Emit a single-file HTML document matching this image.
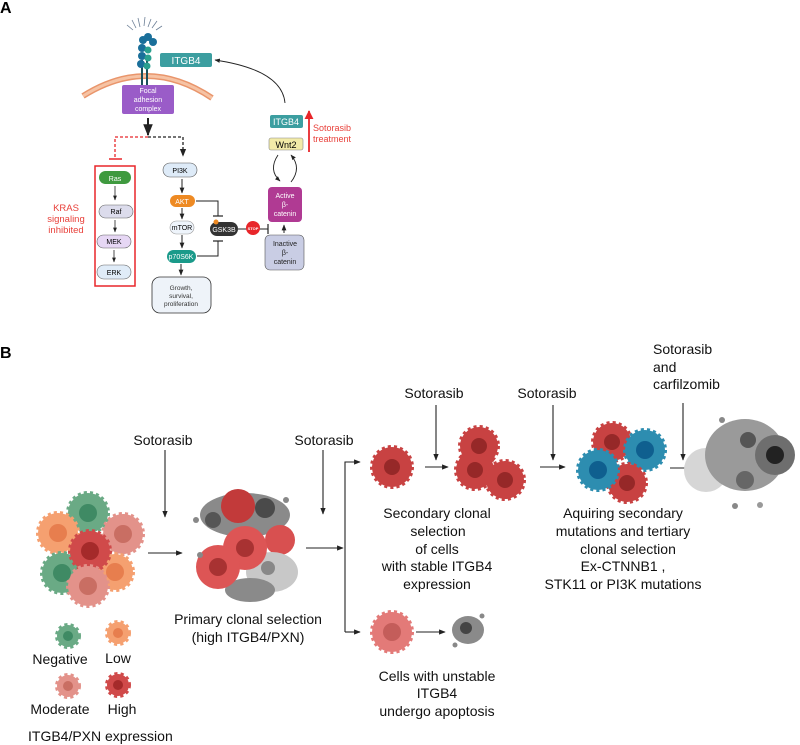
<!DOCTYPE html>
<html><head><meta charset="utf-8"><style>
html,body{margin:0;padding:0;background:#fff}
svg{display:block;font-family:"Liberation Sans",sans-serif}
</style></head><body>
<svg width="800" height="745" viewBox="0 0 800 745" xmlns="http://www.w3.org/2000/svg">
<defs>
<marker id="ah" viewBox="0 0 10 10" refX="9" refY="5" markerWidth="6" markerHeight="6" orient="auto"><path d="M0,1 L10,5 L0,9 z" fill="#222"/></marker>
<marker id="ahr" viewBox="0 0 10 10" refX="9" refY="5" markerWidth="5" markerHeight="5" orient="auto"><path d="M0,0 L10,5 L0,10 z" fill="#e8262a"/></marker>
</defs>
<text x="0" y="13" font-size="16" font-weight="bold">A</text>
<text x="0" y="358" font-size="16" font-weight="bold">B</text>

<!-- membrane -->
<path d="M83,96 Q148,55 212,98" fill="none" stroke="#e9956b" stroke-width="6"/>
<path d="M83,96 Q148,55 212,98" fill="none" stroke="#f6c3a4" stroke-width="3"/>
<!-- receptor -->
<g stroke="#6c7f96" stroke-width="0.8" fill="none">
<path d="M136,28 l-4,-8 M140,27 l-2,-9 M144,26 l1,-9 M148,27 l3,-8 M152,28 l5,-7 M133,30 l-6,-5 M156,30 l6,-4"/>
</g>
<line x1="142" y1="60" x2="142" y2="86" stroke="#1b4f5a" stroke-width="2"/>
<line x1="147" y1="60" x2="147" y2="86" stroke="#1b4f5a" stroke-width="2"/>
<g fill="#1a6f9a">
<circle cx="142" cy="48" r="4"/><circle cx="142" cy="56" r="4"/><circle cx="141" cy="64" r="4"/><circle cx="143" cy="40" r="4"/><circle cx="148" cy="37" r="4"/><circle cx="153" cy="42" r="4"/>
</g>
<g fill="#2aa08f"><circle cx="148" cy="50" r="3.5"/><circle cx="148" cy="58" r="3.5"/><circle cx="147" cy="66" r="3.5"/></g>

<rect x="160" y="53" width="52" height="14" rx="2" fill="#3c9ea0"/>
<text x="186" y="64" font-size="10" fill="#fff" text-anchor="middle">ITGB4</text>
<rect x="122" y="85" width="52" height="29" rx="2" fill="#9a5cc8"/>
<text font-size="7" fill="#fff" text-anchor="middle"><tspan x="148" y="93">Focal</tspan><tspan x="148" y="102">adhesion</tspan><tspan x="148" y="111">complex</tspan></text>

<line x1="148" y1="118" x2="148" y2="135" stroke="#222" stroke-width="2" marker-end="url(#ah)"/>
<path d="M148,137 H115 V158" fill="none" stroke="#e8262a" stroke-width="1.3" stroke-dasharray="3,2"/>
<line x1="109" y1="159" x2="122" y2="159" stroke="#e8262a" stroke-width="1.5"/>
<path d="M148,137 H183 V156" fill="none" stroke="#222" stroke-width="1.3" stroke-dasharray="3,2" marker-end="url(#ah)"/>

<rect x="95" y="166" width="40" height="120" fill="none" stroke="#e8262a" stroke-width="1.5"/>
<rect x="99" y="171" width="32" height="13" rx="6.5" fill="#3f9a3f"/><text x="115" y="181" font-size="7" fill="#fff" text-anchor="middle">Ras</text>
<rect x="99" y="205" width="34" height="13" rx="6.5" fill="#dcdcec" stroke="#666" stroke-width="0.6"/><text x="116" y="214" font-size="7" text-anchor="middle">Raf</text>
<rect x="97" y="235" width="34" height="13" rx="6.5" fill="#e6d7f4" stroke="#666" stroke-width="0.6"/><text x="114" y="244" font-size="7" text-anchor="middle">MEK</text>
<rect x="97" y="265" width="34" height="14" rx="7" fill="#e0ecf8" stroke="#666" stroke-width="0.6"/><text x="114" y="275" font-size="7" text-anchor="middle">ERK</text>
<g stroke="#222" stroke-width="0.8" marker-end="url(#ah)"><line x1="115" y1="186" x2="115" y2="200"/><line x1="115" y1="220" x2="115" y2="232"/><line x1="114" y1="250" x2="114" y2="262"/></g>
<text font-size="9.5" fill="#e8403a" text-anchor="middle"><tspan x="66" y="211">KRAS</tspan><tspan x="66" y="222">signaling</tspan><tspan x="66" y="233">inhibited</tspan></text>

<rect x="163" y="163" width="34" height="14" rx="7" fill="#deebf8" stroke="#555" stroke-width="0.6"/><text x="180" y="173" font-size="7" text-anchor="middle">PI3K</text>
<rect x="170" y="195" width="25" height="12" rx="6" fill="#ee8a23"/><text x="182" y="204" font-size="7" fill="#fff" text-anchor="middle">AKT</text>
<rect x="170" y="221" width="24" height="13" rx="6.5" fill="#eef4fb" stroke="#999" stroke-width="0.6"/><text x="182" y="230" font-size="7" text-anchor="middle">mTOR</text>
<rect x="167" y="250" width="29" height="13" rx="6.5" fill="#1a9a8a"/><text x="181" y="259" font-size="7" fill="#fff" text-anchor="middle">p70S6K</text>
<rect x="152" y="277" width="59" height="36" rx="8" fill="#eef3f9" stroke="#333" stroke-width="0.8"/>
<text font-size="6.5" text-anchor="middle" fill="#333"><tspan x="181" y="290">Growth,</tspan><tspan x="181" y="298">survival,</tspan><tspan x="181" y="306">proliferation</tspan></text>
<g stroke="#222" stroke-width="1" marker-end="url(#ah)"><line x1="182" y1="179" x2="182" y2="193"/><line x1="182" y1="208" x2="182" y2="219"/><line x1="182" y1="235" x2="182" y2="248"/><line x1="181" y1="264" x2="181" y2="275"/></g>
<path d="M196,201 H218 V216" fill="none" stroke="#222" stroke-width="1"/><line x1="213" y1="216" x2="223" y2="216" stroke="#222" stroke-width="1.2"/>
<path d="M197,256 H218 V241" fill="none" stroke="#222" stroke-width="1"/><line x1="213" y1="241" x2="223" y2="241" stroke="#222" stroke-width="1.2"/>
<rect x="210" y="222" width="28" height="14" rx="7" fill="#333"/><circle cx="216" cy="222" r="2.5" fill="#ee8a23"/><text x="224" y="232" font-size="7" fill="#fff" text-anchor="middle">GSK3B</text>
<line x1="238" y1="229" x2="268" y2="229" stroke="#222" stroke-width="1"/><line x1="268" y1="224" x2="268" y2="234" stroke="#222" stroke-width="1.2"/>
<circle cx="253" cy="228" r="7" fill="#e8262a"/><text x="253" y="230" font-size="4" fill="#fff" text-anchor="middle" font-weight="bold">STOP</text>

<rect x="268" y="187" width="34" height="35" rx="4" fill="#b03a93"/>
<text font-size="7" fill="#fff" text-anchor="middle"><tspan x="285" y="198">Active</tspan><tspan x="285" y="207">β-</tspan><tspan x="285" y="216">catenin</tspan></text>
<rect x="265" y="235" width="39" height="35" rx="5" fill="#c9cde4" stroke="#555" stroke-width="0.6"/>
<text font-size="7" text-anchor="middle" fill="#222"><tspan x="285" y="246">Inactive</tspan><tspan x="285" y="255">β-</tspan><tspan x="285" y="264">catenin</tspan></text>
<line x1="284" y1="233" x2="284" y2="225" stroke="#222" stroke-width="1" marker-end="url(#ah)"/>
<rect x="270" y="115" width="33" height="13" rx="2" fill="#3c9ea0"/><text x="286" y="125" font-size="9" fill="#fff" text-anchor="middle">ITGB4</text>
<rect x="269" y="138" width="34" height="12" rx="2" fill="#f2eba8" stroke="#888" stroke-width="0.6"/><text x="286" y="148" font-size="9" text-anchor="middle">Wnt2</text>
<path d="M278,155 Q268,170 280,181" fill="none" stroke="#222" stroke-width="0.9" marker-end="url(#ah)"/>
<path d="M291,182 Q302,168 291,155" fill="none" stroke="#222" stroke-width="0.9" marker-end="url(#ah)"/>
<path d="M285,103 Q282,70 215,60" fill="none" stroke="#222" stroke-width="0.9" marker-end="url(#ah)"/>
<line x1="309" y1="152" x2="309" y2="111" stroke="#e8262a" stroke-width="1.8" marker-end="url(#ahr)"/>
<text font-size="9" fill="#e8403a"><tspan x="313" y="131">Sotorasib</tspan><tspan x="313" y="142">treatment</tspan></text>

<!-- Panel B -->
<g font-size="14" fill="#111" text-anchor="middle">
<text x="163" y="445">Sotorasib</text>
<text x="324" y="445">Sotorasib</text>
<text x="434" y="398">Sotorasib</text>
<text x="547" y="398">Sotorasib</text>
<text x="248" y="624">Primary clonal selection</text>
<text x="248" y="642">(high ITGB4/PXN)</text>
<text x="437" y="518">Secondary clonal</text>
<text x="438" y="536">selection</text>
<text x="437" y="554">of cells</text>
<text x="437" y="571">with stable ITGB4</text>
<text x="437" y="589">expression</text>
<text x="623" y="518">Aquiring secondary</text>
<text x="623" y="536">mutations and tertiary</text>
<text x="628" y="554">clonal selection</text>
<text x="623" y="571">Ex-CTNNB1 ,</text>
<text x="623" y="589">STK11 or PI3K mutations</text>
<text x="437" y="681">Cells with unstable</text>
<text x="437" y="698">ITGB4</text>
<text x="437" y="716">undergo apoptosis</text>
<text x="60" y="664">Negative</text>
<text x="118" y="663">Low</text>
<text x="60" y="714">Moderate</text>
<text x="122" y="714">High</text>
</g>
<g font-size="14" fill="#111"><text x="653" y="354">Sotorasib</text><text x="653" y="372">and</text><text x="653" y="389">carfilzomib</text><text x="28" y="741">ITGB4/PXN expression</text></g>

<g stroke="#222" stroke-width="1.1" fill="none" marker-end="url(#ah)">
<line x1="165" y1="450" x2="165" y2="517"/>
<line x1="148" y1="553" x2="182" y2="553"/>
<line x1="323" y1="450" x2="323" y2="514"/>
<line x1="306" y1="548" x2="343" y2="548"/>
<path d="M345,632 V462 H360"/>
<path d="M345,632 H360"/>
<line x1="436" y1="405" x2="436" y2="460"/>
<line x1="425" y1="467" x2="448" y2="467"/>
<line x1="553" y1="405" x2="553" y2="460"/>
<line x1="540" y1="467" x2="565" y2="467"/>
<line x1="683" y1="403" x2="683" y2="460"/>
<line x1="670" y1="468" x2="695" y2="468"/>
<line x1="416" y1="632" x2="445" y2="632"/>
</g>

<!-- cells -->
<g stroke-width="4" stroke-dasharray="3,3">
<circle cx="88" cy="513" r="20" fill="#6aaa85" stroke="#6aaa85"/>
<circle cx="58" cy="533" r="20" fill="#f5a070" stroke="#f5a070"/>
<circle cx="123" cy="534" r="20" fill="#e3928a" stroke="#e3928a"/>
<circle cx="62" cy="573" r="20" fill="#6aaa85" stroke="#6aaa85"/>
<circle cx="115" cy="572" r="18" fill="#f5a070" stroke="#f5a070"/>
<circle cx="90" cy="551" r="20" fill="#d04a4a" stroke="#d04a4a"/>
<circle cx="88" cy="586" r="20" fill="#e3928a" stroke="#e3928a"/>
<circle cx="68" cy="636" r="11" fill="#6aaa85" stroke="#6aaa85"/>
<circle cx="118" cy="633" r="11" fill="#f5a070" stroke="#f5a070"/>
<circle cx="68" cy="686" r="11" fill="#e3928a" stroke="#e3928a"/>
<circle cx="118" cy="685" r="11" fill="#d04a4a" stroke="#d04a4a"/>
</g>
<circle cx="88" cy="513" r="9" fill="#3f8a64"/><circle cx="58" cy="533" r="9" fill="#e77e4e"/><circle cx="123" cy="534" r="9" fill="#c96e63"/><circle cx="62" cy="573" r="9" fill="#3f8a64"/><circle cx="115" cy="572" r="9" fill="#e77e4e"/><circle cx="90" cy="551" r="9" fill="#a52a2a"/><circle cx="88" cy="586" r="9" fill="#c96e63"/>
<circle cx="68" cy="636" r="5" fill="#3f8a64"/><circle cx="118" cy="633" r="5" fill="#e77e4e"/><circle cx="68" cy="686" r="5" fill="#c96e63"/><circle cx="118" cy="685" r="5" fill="#a52a2a"/>

<!-- primary cluster -->
<g>
<ellipse cx="245" cy="515" rx="45" ry="22" fill="#8a8a8a"/>
<circle cx="238" cy="506" r="17" fill="#c23a3a"/>
<circle cx="265" cy="508" r="10" fill="#4a4a4a"/>
<circle cx="280" cy="540" r="15" fill="#d85050"/>
<ellipse cx="272" cy="572" rx="26" ry="20" fill="#c8c8c8"/>
<ellipse cx="250" cy="590" rx="25" ry="12" fill="#8a8a8a"/>
<circle cx="245" cy="548" r="22" fill="#dd5555"/>
<circle cx="218" cy="567" r="22" fill="#dd5555"/>
<circle cx="245" cy="548" r="9" fill="#a83232"/><circle cx="218" cy="567" r="9" fill="#a83232"/>
<circle cx="213" cy="520" r="8" fill="#555"/><circle cx="268" cy="568" r="7" fill="#888"/>
<circle cx="196" cy="520" r="3" fill="#888"/><circle cx="200" cy="555" r="3" fill="#888"/><circle cx="286" cy="500" r="3" fill="#888"/>
</g>

<!-- secondary -->
<g stroke-width="4" stroke-dasharray="3,3">
<circle cx="392" cy="467" r="20" fill="#c84242" stroke="#c84242"/>
<circle cx="479" cy="446" r="19" fill="#c84242" stroke="#c84242"/>
<circle cx="475" cy="470" r="19" fill="#c84242" stroke="#c84242"/>
<circle cx="505" cy="480" r="19" fill="#c84242" stroke="#c84242"/>
<circle cx="612" cy="442" r="19" fill="#c84242" stroke="#c84242"/>
<circle cx="645" cy="450" r="20" fill="#2d8db0" stroke="#2d8db0"/>
<circle cx="627" cy="483" r="19" fill="#c84242" stroke="#c84242"/>
<circle cx="598" cy="470" r="20" fill="#2d8db0" stroke="#2d8db0"/>
<circle cx="392" cy="632" r="20" fill="#e37a78" stroke="#e37a78"/>
</g>
<circle cx="392" cy="467" r="8" fill="#962828"/><circle cx="479" cy="446" r="8" fill="#962828"/><circle cx="475" cy="470" r="8" fill="#962828"/><circle cx="505" cy="480" r="8" fill="#962828"/>
<circle cx="612" cy="442" r="8" fill="#962828"/><circle cx="645" cy="450" r="9" fill="#0f5f8f"/><circle cx="627" cy="483" r="8" fill="#962828"/><circle cx="598" cy="470" r="9" fill="#0f5f8f"/>
<circle cx="392" cy="632" r="9" fill="#c45d5a"/>

<!-- dead cluster -->
<ellipse cx="706" cy="470" rx="22" ry="22" fill="#d6d6d6"/>
<ellipse cx="745" cy="455" rx="40" ry="36" fill="#9a9a9a"/>
<circle cx="775" cy="455" r="20" fill="#6e6e6e"/>
<circle cx="775" cy="455" r="9" fill="#222"/>
<circle cx="748" cy="440" r="8" fill="#555"/><circle cx="745" cy="480" r="9" fill="#666"/>
<circle cx="722" cy="420" r="3" fill="#888"/><circle cx="735" cy="506" r="3" fill="#888"/><circle cx="760" cy="505" r="3" fill="#999"/>
<!-- apoptotic small -->
<ellipse cx="468" cy="630" rx="16" ry="14" fill="#8a8a8a"/><circle cx="466" cy="628" r="6" fill="#444"/>
<circle cx="482" cy="616" r="2.5" fill="#888"/><circle cx="455" cy="645" r="2.5" fill="#888"/>
</svg>
</body></html>
